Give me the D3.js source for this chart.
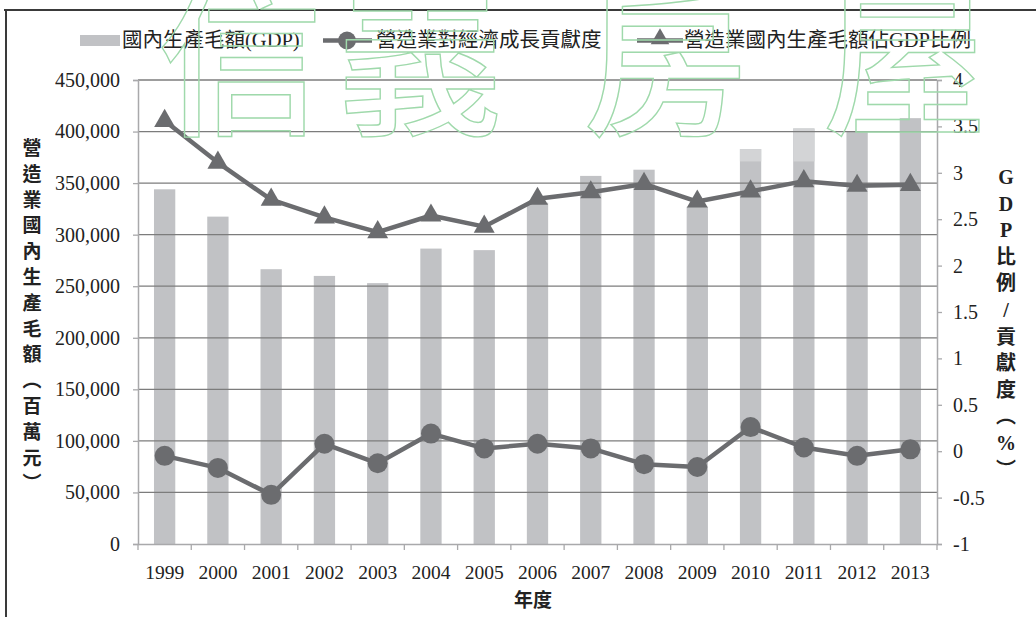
<!DOCTYPE html>
<html>
<head>
<meta charset="utf-8">
<script src="https://cdn.jsdelivr.net/npm/d3@7"></script>
<style>
  html, body { margin: 0; padding: 0; background: #fff; }
  svg { display: block; }
  .serif { font-family: "Liberation Serif", "Noto Sans CJK TC", serif; }
</style>
</head>
<body>
<svg id="chart" width="1036" height="617"></svg>
<script>
// ---------- DATA ----------
const years = ["1999","2000","2001","2002","2003","2004","2005","2006","2007","2008","2009","2010","2011","2012","2013"];
// 國內生產毛額(GDP) (百萬元)
const gdp = [344000, 317500, 266500, 260000, 253000, 286500, 285000, 331000, 357000, 363000, 327000, 383000, 403000, 400000, 413000];
// lighter upper part of the 2010/2011 bars starts at this value
const gdpLightFrom = [null, null, null, null, null, null, null, null, null, null, null, 371000, 371000, null, null];
// 營造業對經濟成長貢獻度 (%)
const contribution = [-0.05, -0.18, -0.47, 0.08, -0.13, 0.19, 0.03, 0.08, 0.03, -0.14, -0.17, 0.26, 0.04, -0.05, 0.02];
// 營造業國內生產毛額佔GDP比例 (%)
const share = [3.56, 3.11, 2.71, 2.52, 2.36, 2.54, 2.42, 2.72, 2.79, 2.88, 2.69, 2.80, 2.91, 2.86, 2.87];
const leftTicks = [0, 50000, 100000, 150000, 200000, 250000, 300000, 350000, 400000, 450000];
const rightTicks = [-1, -0.5, 0, 0.5, 1, 1.5, 2, 2.5, 3, 3.5, 4];
const legendLabels = ["國內生產毛額(GDP)", "營造業對經濟成長貢獻度", "營造業國內生產毛額佔GDP比例"];
const leftTitle = ["營","造","業","國","內","生","產","毛","額","︵","百","萬","元","︶"];
const rightTitle = ["G","D","P","比","例","/","貢","獻","度","︵","%","︶"];
const xTitle = "年度";
const watermark = ["信","義","房","屋"];

// ---------- LAYOUT ----------
const svg = d3.select("#chart");
const L = 138, R = 937, T = 80, B = 544;
const barColor = "#c1c2c5", barLight = "#d3d4d6", lineColor = "#6b6c6f";
const gridColor = "#7c7c7c", axisColor = "#a9a9ab";
const textColor = "#222";

const x = d3.scaleBand().domain(years).range([L, R]).paddingInner(0.6).paddingOuter(0.3);
const yL = d3.scaleLinear().domain([0, 450000]).range([B, T]);
const yR = d3.scaleLinear().domain([-1, 4]).range([B, T]);
const cx = d => x(d) + x.bandwidth() / 2;

// frame
svg.append("line").attr("x1", 4).attr("x2", 1036).attr("y1", 10).attr("y2", 10)
  .attr("stroke", "#3a3a3a").attr("stroke-width", 2);
svg.append("line").attr("x1", 6).attr("x2", 6).attr("y1", 10).attr("y2", 617)
  .attr("stroke", "#3a3a3a").attr("stroke-width", 2);

// bars
svg.append("g").selectAll("rect").data(years).join("rect")
  .attr("x", d => x(d)).attr("width", x.bandwidth())
  .attr("y", (d, i) => yL(gdp[i])).attr("height", (d, i) => yL(0) - yL(gdp[i]))
  .attr("fill", barColor);
svg.append("g").selectAll("rect").data(years.filter((d, i) => gdpLightFrom[i] != null)).join("rect")
  .attr("x", d => x(d)).attr("width", x.bandwidth())
  .attr("y", d => yL(gdp[years.indexOf(d)]))
  .attr("height", d => yL(gdpLightFrom[years.indexOf(d)]) - yL(gdp[years.indexOf(d)]))
  .attr("fill", barLight);

// gridlines (left axis)
svg.append("g").selectAll("line").data(leftTicks.filter(v => v > 0)).join("line")
  .attr("x1", L).attr("x2", R).attr("y1", d => yL(d)).attr("y2", d => yL(d))
  .attr("stroke", gridColor).attr("stroke-width", 1.3);

// left axis
const gL = svg.append("g").attr("transform", `translate(${L},0)`)
  .call(d3.axisLeft(yL).tickValues(leftTicks).tickFormat(d3.format(",")).tickSize(5).tickPadding(13));
gL.select(".domain").attr("stroke", axisColor).attr("stroke-width", 1.5);
gL.selectAll(".tick line").attr("stroke", axisColor).attr("stroke-width", 1.3);
gL.selectAll("text").attr("class", "serif").attr("font-size", 20).attr("fill", textColor);

// right axis
const gR = svg.append("g").attr("transform", `translate(${R},0)`)
  .call(d3.axisRight(yR).tickValues(rightTicks).tickFormat(d => String(d)).tickSize(5).tickPadding(11));
gR.select(".domain").attr("stroke", axisColor).attr("stroke-width", 1.5);
gR.selectAll(".tick line").attr("stroke", axisColor).attr("stroke-width", 1.3);
gR.selectAll("text").attr("class", "serif").attr("font-size", 20).attr("fill", textColor);

// bottom axis
const gB = svg.append("g").attr("transform", `translate(0,${B})`)
  .call(d3.axisBottom(x).tickSize(0).tickPadding(21));
gB.select(".domain").attr("stroke", axisColor).attr("stroke-width", 1.5);
gB.selectAll("text").attr("class", "serif").attr("font-size", 19.5).attr("fill", textColor);
const bounds = d3.range(years.length + 1).map(i => L + i * x.step());
svg.append("g").selectAll("line").data(bounds).join("line")
  .attr("x1", d => d).attr("x2", d => d).attr("y1", B).attr("y2", B + 6)
  .attr("stroke", axisColor).attr("stroke-width", 1.3);

// share line (triangles)
const triPath = d3.symbol().type(d3.symbolTriangle).size(190);
svg.append("path").datum(share)
  .attr("d", d3.line().x((d, i) => cx(years[i])).y(d => yR(d)))
  .attr("fill", "none").attr("stroke", lineColor).attr("stroke-width", 4.5).attr("stroke-linejoin", "round");
svg.append("g").selectAll("path").data(share).join("path")
  .attr("transform", (d, i) => `translate(${cx(years[i])},${yR(d)})`)
  .attr("d", triPath).attr("fill", lineColor);

// contribution line (circles)
svg.append("path").datum(contribution)
  .attr("d", d3.line().x((d, i) => cx(years[i])).y(d => yR(d)))
  .attr("fill", "none").attr("stroke", lineColor).attr("stroke-width", 4.5).attr("stroke-linejoin", "round");
svg.append("g").selectAll("circle").data(contribution).join("circle")
  .attr("cx", (d, i) => cx(years[i])).attr("cy", d => yR(d)).attr("r", 10)
  .attr("fill", lineColor);

// legend
const lg = svg.append("g").attr("class", "serif").attr("font-size", 20.5).attr("fill", textColor);
lg.append("rect").attr("x", 80).attr("y", 35).attr("width", 40).attr("height", 11).attr("fill", barColor);
lg.append("text").attr("x", 122).attr("y", 47).text(legendLabels[0]);
lg.append("line").attr("x1", 323).attr("x2", 372).attr("y1", 40.5).attr("y2", 40.5).attr("stroke", lineColor).attr("stroke-width", 4.5);
lg.append("circle").attr("cx", 347).attr("cy", 40.5).attr("r", 9).attr("fill", lineColor);
lg.append("text").attr("x", 376).attr("y", 47).text(legendLabels[1]);
lg.append("line").attr("x1", 637).attr("x2", 683).attr("y1", 40.5).attr("y2", 40.5).attr("stroke", lineColor).attr("stroke-width", 4.5);
lg.append("path").attr("transform", "translate(660,39)").attr("d", d3.symbol().type(d3.symbolTriangle).size(150)).attr("fill", lineColor);
lg.append("text").attr("x", 684).attr("y", 47).text(legendLabels[2]);

// left title (vertical)
svg.append("g").attr("class", "serif").attr("font-size", 19).attr("font-weight", "bold").attr("fill", textColor)
  .selectAll("text").data(leftTitle).join("text")
  .attr("x", 32).attr("y", (d, i) => 155 + i * 25.8).attr("text-anchor", "middle").text(d => d);

// right title (vertical)
svg.append("g").attr("class", "serif").attr("font-size", 20).attr("font-weight", "bold").attr("fill", textColor)
  .selectAll("text").data(rightTitle).join("text")
  .attr("x", 1006).attr("y", (d, i) => 184 + i * 26.6).attr("text-anchor", "middle").text(d => d);

// x title
svg.append("text").attr("class", "serif").attr("x", 533).attr("y", 607).attr("text-anchor", "middle")
  .attr("font-size", 19).attr("font-weight", "bold").attr("fill", textColor).text(xTitle);

// watermark
svg.append("g").attr("font-family", "Noto Sans CJK TC").attr("font-size", 165).attr("font-weight", 500)
  .attr("fill", "none").attr("stroke", "#9fd9ab").attr("stroke-width", 1.4)
  .selectAll("text").data(watermark).join("text")
  .attr("x", (d, i) => [240, 420, 665, 905][i]).attr("y", 122).attr("text-anchor", "middle").text(d => d);
</script>
</body>
</html>
